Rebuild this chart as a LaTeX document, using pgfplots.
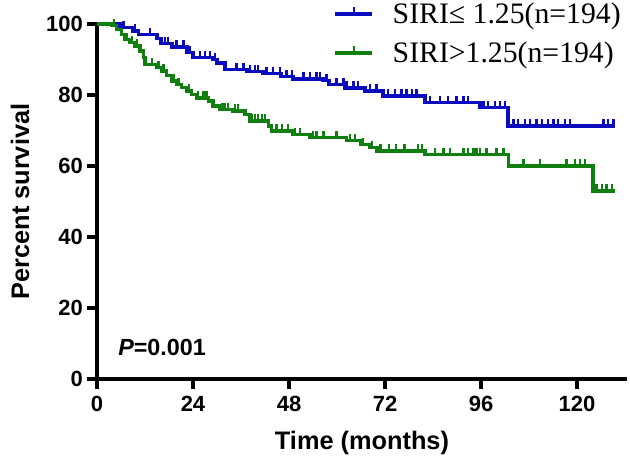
\documentclass[border=0pt]{standalone}
\usepackage{fontspec}
\setmainfont{Liberation Sans}
\newfontfamily\timesfont{Liberation Serif}
\usepackage{pgfplots}
\usepackage{pgfplotstable}
\pgfplotsset{compat=1.18}
\definecolor{kmblue}{RGB}{10,10,190}
\definecolor{kmgreen}{RGB}{15,128,15}
\pgfdeclareplotmark{censor}{\pgfpathmoveto{\pgfqpoint{0pt}{0pt}}\pgfpathlineto{\pgfqpoint{0pt}{\pgfplotmarksize}}\pgfusepathqstroke}

\pgfplotstableread{
t S
0 100
5.75 99.0
9 98.0
10.3 97.1
15 96.0
16 94.5
18.75 93.5
22.5 92.0
24 90.5
29 90.0
30 89.0
32 87.2
37.5 86.7
41.5 86.0
46 85.2
49 84.5
56.5 84.0
58 83.0
62 82.0
67 81.1
71.5 79.7
82 77.8
95.75 76.4
102.75 71.3
129.5 71.3
}\bluesteps

\pgfplotstableread{
t S
6.6 99
9.5 98
13.25 97.1
17 94.5
17.8 94.5
19.9 93.5
21.6 93.5
23.25 92
25.75 90.5
27 90.5
28.25 90.5
29.5 90
34.9 87.2
36.6 87.2
38.25 86.7
39.5 86.7
40.3 86.7
42.4 86
44 86
45.75 86
47.4 85.2
48.7 85.2
51.6 84.5
53.25 84.5
54.9 84.5
55.75 84.5
57.4 84
59.9 83
61.6 83
62.4 82
64.1 82
65.3 82
68.25 81.1
69.9 81.1
72.75 79.7
74.5 79.7
76.1 79.7
77.4 79.7
78.7 79.7
79.9 79.7
83.25 77.8
85.75 77.8
87.8 77.8
89.9 77.8
91.6 77.8
92.8 77.8
96.6 76.4
97.8 76.4
99.5 76.4
100.75 76.4
102 76.4
104.1 71.3
105.3 71.3
107 71.3
108.25 71.3
109.9 71.3
111.2 71.3
112.8 71.3
114.1 71.3
115.3 71.3
117 71.3
118.25 71.3
126.6 71.3
127.8 71.3
129.1 71.3
}\bluecens

\pgfplotstableread{
t S
0 100
3.7 99.5
4.9 98.5
6.2 97.0
7 95.7
8.25 94.7
9.5 93.8
10.75 92.4
11.6 90.5
12 88.6
14.9 87.7
16.2 86.8
17.4 85.4
18.7 83.9
19.9 83.0
21.2 82.1
22.4 81.1
23.7 80.2
24.9 79.2
27.8 78.3
29 76.9
30.75 76.0
34 75.5
37 74.6
38.25 72.7
42.8 71.3
43.7 69.9
49 68.9
53.25 68.0
62.4 67.2
66 66.0
68.25 65.2
70 64.2
82 63.2
102.8 60.0
124 53.0
129.5 53.0
}\greensteps

\pgfplotstableread{
t S
4.3 99.5
7.4 95.7
8.7 94.7
10 93.8
13.7 88.6
15.4 87.7
16.6 86.8
19.2 83.9
20.4 83
23 81.1
25.3 79.2
26.6 79.2
27.4 79.2
31.2 76
31.9 76
32.7 76
34.5 75.5
35.3 75.5
38.7 72.7
39.5 72.7
40.3 72.7
41.2 72.7
42 72.7
44.9 69.9
46.2 69.9
47.8 69.9
49.5 68.9
50.75 68.9
54 68
54.9 68
56.6 68
59.9 68
63.25 67.2
64.5 67.2
66.5 66
68.7 65.2
70.9 64.2
73 64.2
74.7 64.2
76.9 64.2
80.3 64.2
81.2 64.2
84.5 63.2
86.6 63.2
88.25 63.2
91.6 63.2
92.8 63.2
94.1 63.2
94.9 63.2
95.75 63.2
97.4 63.2
99.9 63.2
101.6 63.2
106.6 60
110.75 60
117.4 60
119.5 60
120.75 60
122 60
124.9 53
126.2 53
127.4 53
128.7 53
}\greencens

\begin{document}
\begin{tikzpicture}
\useasboundingbox (-72.75pt,-61.5pt) rectangle (399.75pt,284.25pt);
\begin{axis}[
  at={(0pt,0pt)}, anchor=south west,
  width=397.5pt, height=266.25pt, scale only axis,
  xmin=0, xmax=132.5, ymin=0, ymax=100,
  axis lines=left,
  axis line style={draw=none},
  xtick={0,24,...,120}, ytick={0,20,...,100},
  tick style={draw=none},
  /pgf/number format/assume math mode=true,
  xticklabel style={font=\bfseries\fontsize{16.5}{18}\selectfont, yshift=-7pt},
  yticklabel style={font=\bfseries\fontsize{16.5}{18}\selectfont, xshift=-5pt},
  xlabel={Time (months)},
  ylabel={Percent survival},
  xlabel style={font=\bfseries\fontsize{19}{22}\selectfont, at={(axis description cs:0.5,0)}, anchor=center, yshift=-48pt},
  ylabel style={font=\bfseries\fontsize{19}{22}\selectfont, at={(axis description cs:0,0.5)}, anchor=center, rotate=0, yshift=57.75pt},
  clip=false,
  legend style={at={(1,1)}, anchor=north east, xshift=-3.5pt, yshift=17.2pt,
    draw=none, fill=none, inner sep=0pt, row sep=10.3pt, column sep=13pt,
    font=\timesfont\fontsize{22.3}{25}\selectfont,
    nodes={inner sep=1pt}},
  legend cell align=left,
  legend image code/.code={
    \draw[#1, mark=none] (0pt,0pt) -- (28pt,0pt);
    \draw[#1, mark=none, line width=1.8pt] (14pt,0pt) -- (14pt,5pt);
  },
]
% axis frame: lines and outward ticks
\draw[line width=2.6pt, black] (axis cs:0,0) -- (axis cs:132.5,0);
\draw[line width=2.6pt, black] (axis cs:0,0) -- (axis cs:0,100);
\pgfplotsinvokeforeach{0,24,48,72,96,120}{
  \draw[line width=2.6pt, black] (axis cs:#1,0) -- ++(0pt,-7.5pt);
}
\pgfplotsinvokeforeach{0,20,40,60,80,100}{
  \draw[line width=2.6pt, black] (axis cs:0,#1) -- ++(-7.5pt,0pt);
}
\addplot[kmblue, line width=2.5pt, const plot, mark=none] table {\bluesteps};
\addlegendentry{SIRI≤ 1.25(n=194)}
\addplot[kmgreen, line width=2.5pt, const plot, mark=none] table {\greensteps};
\addlegendentry{SIRI>1.25(n=194)}
\addplot[kmblue, only marks, mark=censor, mark size=5pt, mark options={line width=1.8pt}, forget plot] table {\bluecens};
\addplot[kmgreen, only marks, mark=censor, mark size=5pt, mark options={line width=1.8pt}, forget plot] table {\greencens};
\node[anchor=west, font=\bfseries\fontsize{17.5}{20}\selectfont, inner sep=0pt] at (axis cs:5.25,9) {\textit{P}=0.001};
\end{axis}
\end{tikzpicture}
\end{document}
